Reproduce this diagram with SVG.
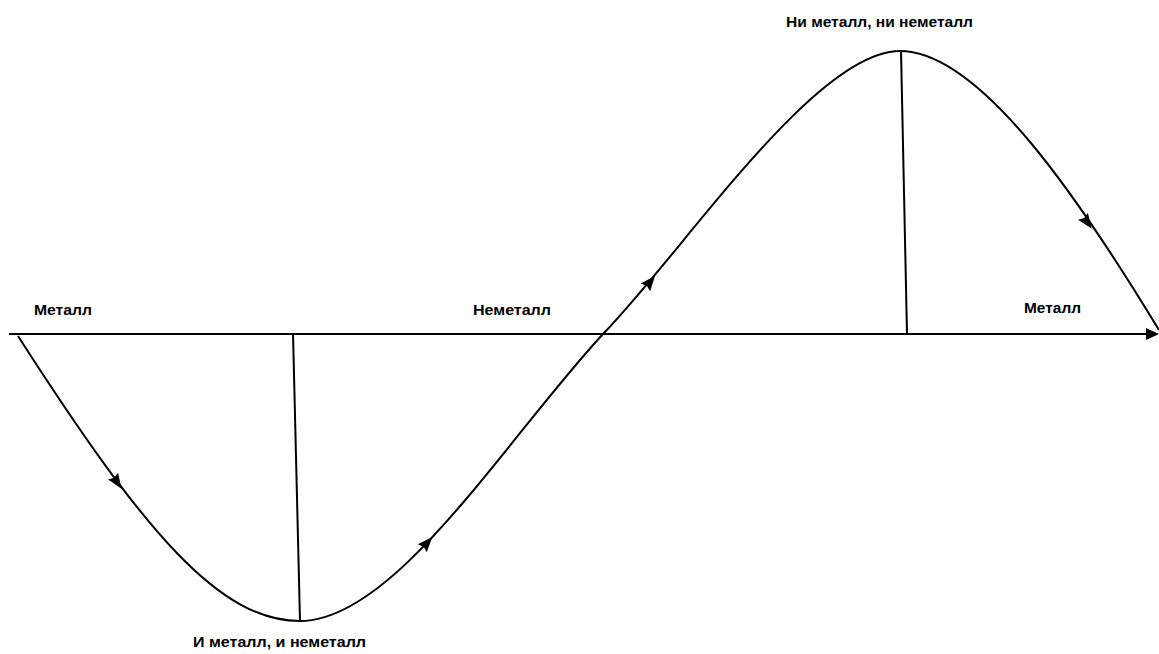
<svg xmlns="http://www.w3.org/2000/svg" width="1159" height="654" viewBox="0 0 1159 654">
<style>
.ln{fill:none;stroke:#000;stroke-width:2}
.ah{fill:#000}
.lb{font-family:"Liberation Sans",Arial,sans-serif;font-weight:bold;font-size:14px;fill:#000}
</style>
<defs>
<path id="tri" d="M8,0 L-7,-6 L-5,0 L-7,6 Z"/>
</defs>
<rect width="1159" height="654" fill="#fff"/>
<g id="connectors">
<path class="ln" d="M9,334 L1150,334"/>
<path class="ah" d="M1159,334 L1146,328 L1146,340 Z"/>
<path class="ln" d="M293,333 L300,621"/>
<path class="ln" d="M901,50 L907,334"/>
<path class="ln" d="M18,336 C145,534 220,621 300,621 C395,621 505,440 603,334 C683,252 815,51 900,51 C980,51 1080,200 1159,330"/>
<use href="#tri" class="ah" transform="translate(117,482) rotate(56)"/>
<use href="#tri" class="ah" transform="translate(427,543) rotate(-48)"/>
<use href="#tri" class="ah" transform="translate(650,282) rotate(-50)"/>
<use href="#tri" class="ah" transform="translate(1087,222) rotate(55)"/>
</g>
<g id="n1"><text class="lb" x="34" y="315" textLength="58" lengthAdjust="spacingAndGlyphs">Металл</text></g>
<g id="n2"><text class="lb" x="473" y="315" textLength="78" lengthAdjust="spacingAndGlyphs">Неметалл</text></g>
<g id="n3"><text class="lb" x="1024" y="313" textLength="57" lengthAdjust="spacingAndGlyphs">Металл</text></g>
<g id="n4"><text class="lb" x="786" y="27" textLength="187" lengthAdjust="spacingAndGlyphs">Ни металл, ни неметалл</text></g>
<g id="n5"><text class="lb" x="193" y="647" textLength="173" lengthAdjust="spacingAndGlyphs">И металл, и неметалл</text></g>
</svg>
